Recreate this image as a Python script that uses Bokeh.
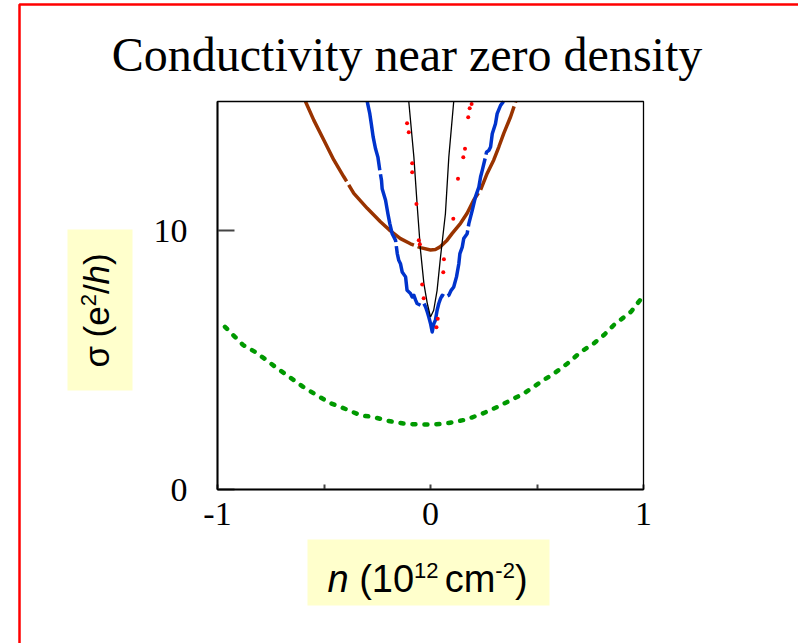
from bokeh.plotting import figure
from bokeh.models import Range1d, FixedTicker, Label, BoxAnnotation, LinearAxis
from bokeh.embed import file_html
from bokeh.resources import INLINE

# ---------------- data ----------------
title_text = "Conductivity near zero density"
x_ticks = [-1, 0, 1]
x_minor_ticks = [-0.5, 0.5]
y_ticks = [0, 10]
x_lim = (-1, 1)
y_lim = (0, 15)

green_n = [-0.965, -0.918, -0.879, -0.824, -0.776, -0.729, -0.674, -0.598, -0.533, -0.471,
           -0.392, -0.329, -0.268, -0.198, -0.127, -0.056, 0.014, 0.085, 0.165, 0.243,
           0.314, 0.376, 0.438, 0.518, 0.579, 0.643, 0.706, 0.767, 0.814, 0.861, 0.941, 0.996]
green_s = [6.29, 5.90, 5.58, 5.32, 5.04, 4.74, 4.42, 3.97, 3.64, 3.34,
           3.09, 2.87, 2.80, 2.65, 2.55, 2.51, 2.51, 2.57, 2.70, 2.93,
           3.19, 3.45, 3.71, 4.16, 4.48, 4.87, 5.32, 5.65, 5.97, 6.36, 6.87, 7.45]

brown_n = [-0.587, -0.548, -0.501, -0.454, -0.407, -0.360, -0.297, -0.235, -0.188,
           -0.141, -0.094, -0.047, 0.000, 0.023, 0.047, 0.078, 0.102, 0.141, 0.172,
           0.203, 0.235, 0.266, 0.297, 0.321, 0.344, 0.376, 0.400]
brown_s = [15.00, 14.28, 13.51, 12.74, 12.09, 11.45, 10.87, 10.35, 10.00,
           9.70, 9.50, 9.35, 9.26, 9.28, 9.39, 9.64, 9.90, 10.29, 10.68,
           11.19, 11.58, 12.22, 12.74, 13.25, 13.77, 14.41, 15.00]

blue_n = [-0.297, -0.294, -0.285, -0.278, -0.269, -0.258, -0.247, -0.238, -0.230, -0.227,
          -0.211, -0.200, -0.191, -0.180, -0.172, -0.164, -0.156, -0.149, -0.141, -0.133,
          -0.117, -0.110, -0.094, -0.086, -0.078, -0.070, -0.063, -0.047, -0.031, -0.023,
          -0.015, -0.008, 0.000, 0.008, 0.016, 0.023, 0.031, 0.039, 0.047, 0.055,
          0.070, 0.086, 0.097, 0.109, 0.122, 0.133, 0.138, 0.149, 0.156, 0.172,
          0.180, 0.196, 0.211, 0.227, 0.235, 0.243, 0.258, 0.263, 0.274, 0.282,
          0.290, 0.305, 0.313, 0.329, 0.343]
blue_s = [15.00, 14.88, 14.53, 14.14, 13.62, 13.17, 12.85, 12.34, 11.95, 11.63,
          11.18, 10.66, 10.28, 9.89, 9.76, 9.63, 9.12, 8.86, 8.73, 8.41,
          8.22, 7.70, 7.58, 7.44, 7.51, 7.32, 7.19, 7.12, 7.19, 7.06,
          6.86, 6.67, 6.42, 6.09, 6.42, 6.54, 6.93, 7.19, 7.38, 7.51,
          7.44, 7.51, 7.70, 7.83, 8.22, 8.73, 9.12, 9.37, 9.70, 9.89,
          10.28, 10.79, 11.31, 11.69, 12.08, 12.34, 12.85, 13.04, 13.11, 13.24,
          13.75, 14.14, 14.53, 14.85, 15.00]

black_n = [-0.102, -0.078, -0.062, -0.047, -0.031, -0.015, 0.000, 0.015, 0.031,
           0.047, 0.070, 0.086, 0.109]
black_s = [15.00, 12.85, 10.92, 9.25, 7.96, 7.19, 6.67, 6.93, 7.70,
           8.99, 10.66, 12.85, 15.00]

red_n = [-0.110, -0.102, -0.086, -0.086, -0.066, -0.055, -0.050, -0.039, -0.032, 0.034,
         0.028, 0.063, 0.060, 0.107, 0.129, 0.154, 0.162, 0.177, 0.184, 0.193]
red_s = [14.16, 13.81, 12.61, 12.26, 11.04, 9.64, 9.48, 7.93, 7.39, 6.60,
         6.27, 8.90, 8.40, 10.47, 12.01, 12.84, 13.17, 14.39, 14.74, 14.90]

# ---------------- layout: the frame is the whole page; the plot box sits inside it ----
W, H = 798, 643
BOX_L, BOX_R, BOX_T, BOX_B = 217, 643, 101, 489      # pixel edges of the plot box
kx = (x_lim[1] - x_lim[0]) / (BOX_R - BOX_L)
ky = (y_lim[1] - y_lim[0]) / (BOX_B - BOX_T)
x0 = x_lim[0] - BOX_L * kx
y1 = y_lim[1] + BOX_T * ky
BASE_FIX = 0.35   # label baseline correction, in em

p = figure(width=W, height=H, output_backend="svg", toolbar_location=None,
           x_range=Range1d(x0, x0 + W * kx), y_range=Range1d(y1 - H * ky, y1),
           x_axis_location=None, y_axis_location=None,
           min_border=0, min_border_left=0, min_border_right=0,
           min_border_top=0, min_border_bottom=0)
p.background_fill_color = "white"
p.border_fill_color = "white"
p.outline_line_color = None
p.grid.visible = False


def sx(px):
    return px


def sy(py):
    return H - py


def scr(**kw):
    return dict(left_units="screen", right_units="screen",
                top_units="screen", bottom_units="screen", **kw)


# red slide border and yellow label boxes (behind everything)
p.add_layout(BoxAnnotation(left=sx(19), right=sx(W + 20), top=sy(4), bottom=sy(H + 20),
                           fill_alpha=0, line_color="#FF0000", line_alpha=1, line_width=2.5,
                           level="underlay", **scr()))
p.add_layout(BoxAnnotation(left=sx(67), right=sx(132), top=sy(229), bottom=sy(390),
                           fill_color="#FFFFCC", fill_alpha=1, line_alpha=0,
                           level="underlay", **scr()))
p.add_layout(BoxAnnotation(left=sx(307), right=sx(549), top=sy(539), bottom=sy(605),
                           fill_color="#FFFFCC", fill_alpha=1, line_alpha=0,
                           level="underlay", **scr()))

# axes placed at the plot box edges
xaxis = LinearAxis(fixed_location=y_lim[0], bounds=x_lim,
                   ticker=FixedTicker(ticks=x_ticks, minor_ticks=x_minor_ticks),
                   major_label_overrides={-1: "-1", 0: "0", 1: "1"})
yaxis = LinearAxis(fixed_location=x_lim[0], bounds=y_lim,
                   ticker=FixedTicker(ticks=y_ticks),
                   major_label_overrides={0: "0", 10: "10"})
for ax in (xaxis, yaxis):
    ax.major_label_text_font = "Liberation Serif"
    ax.major_label_text_font_size = "34px"
    ax.major_label_text_color = "black"
    ax.major_tick_out = 0
    ax.minor_tick_out = 0
    ax.major_tick_line_color = "#444444"
    ax.minor_tick_line_color = "#444444"
    ax.major_tick_line_width = 2
    ax.minor_tick_line_width = 2
    ax.axis_line_width = 2
xaxis.major_tick_in = 5
xaxis.minor_tick_in = 5
xaxis.axis_line_color = "#444444"
xaxis.major_label_standoff = 13
yaxis.major_tick_in = 17
yaxis.minor_tick_line_color = None
yaxis.axis_line_color = "#111111"
yaxis.major_label_standoff = 30
p.add_layout(xaxis, "below")
p.add_layout(yaxis, "left")

# curves
p.line(green_n, green_s, line_color="#009900", line_width=4.5, line_dash="3 9", line_cap="round")
p.line(brown_n, brown_s, line_color="#993300", line_width=3.5, line_dash="90 4")
p.line(blue_n, blue_s, line_color="#0033CC", line_width=3.5, line_dash="70 4", line_join="round")
p.line(black_n, black_s, line_color="black", line_width=1.3)
p.scatter(red_n, red_s, size=4, color="#FF0000", line_width=0)

# plot box outline (top and right edges)
p.add_layout(BoxAnnotation(left=x_lim[0], right=x_lim[1], bottom=y_lim[0], top=y_lim[1],
                           fill_alpha=0, line_color="black", line_alpha=1, line_width=1.3))

# title
p.add_layout(Label(x=sx(406.5), y=sy(71) + BASE_FIX * 48, x_units="screen", y_units="screen",
                   text=title_text, text_font="Liberation Serif", text_font_size="48px",
                   text_align="center", text_baseline="alphabetic", text_color="black"))


def piece(x, y, text, size, style="normal", angle=0.0):
    p.add_layout(Label(x=x, y=y, x_units="screen", y_units="screen", text=text,
                       text_font="Liberation Sans", text_font_size=f"{size}px",
                       text_font_style=style, text_align="left",
                       text_baseline="alphabetic", text_color="black",
                       angle=angle, angle_units="rad"))


# x axis label: n (10^12 cm^-2)
XS, XSUP = 38, 22
base = sy(592) + BASE_FIX * XS
sup = sy(578) + BASE_FIX * XSUP
bx = sx(327)
piece(bx, base, "n", XS, "italic")
bx += (0.556 + 0.278) * XS
piece(bx, base, "(10", XS)
bx += 1.445 * XS
piece(bx, sup, "12", XSUP)
bx += 1.112 * XSUP + 0.278 * XSUP
piece(bx, base, "cm", XS)
bx += 1.333 * XS
piece(bx, sup, "-2", XSUP)
bx += 0.889 * XSUP
piece(bx, base, ")", XS)

# y axis label: sigma (e^2/h), rotated
YS, YSUP = 35, 22
ang = 1.5707963
basex = sx(108) - BASE_FIX * YS
supx = sx(96) - BASE_FIX * YSUP
by = sy(367)
piece(basex, by, "σ", YS, angle=ang)
by += (0.58 + 0.278) * YS
piece(basex, by, "(e", YS, angle=ang)
by += 0.889 * YS
piece(supx, by, "2", YSUP, angle=ang)
by += 0.556 * YSUP
piece(basex, by, "/", YS, angle=ang)
by += 0.278 * YS
piece(basex, by, "h", YS, "italic", angle=ang)
by += 0.556 * YS
piece(basex, by, ")", YS, angle=ang)

open("out.html", "w").write(file_html(p, INLINE))
